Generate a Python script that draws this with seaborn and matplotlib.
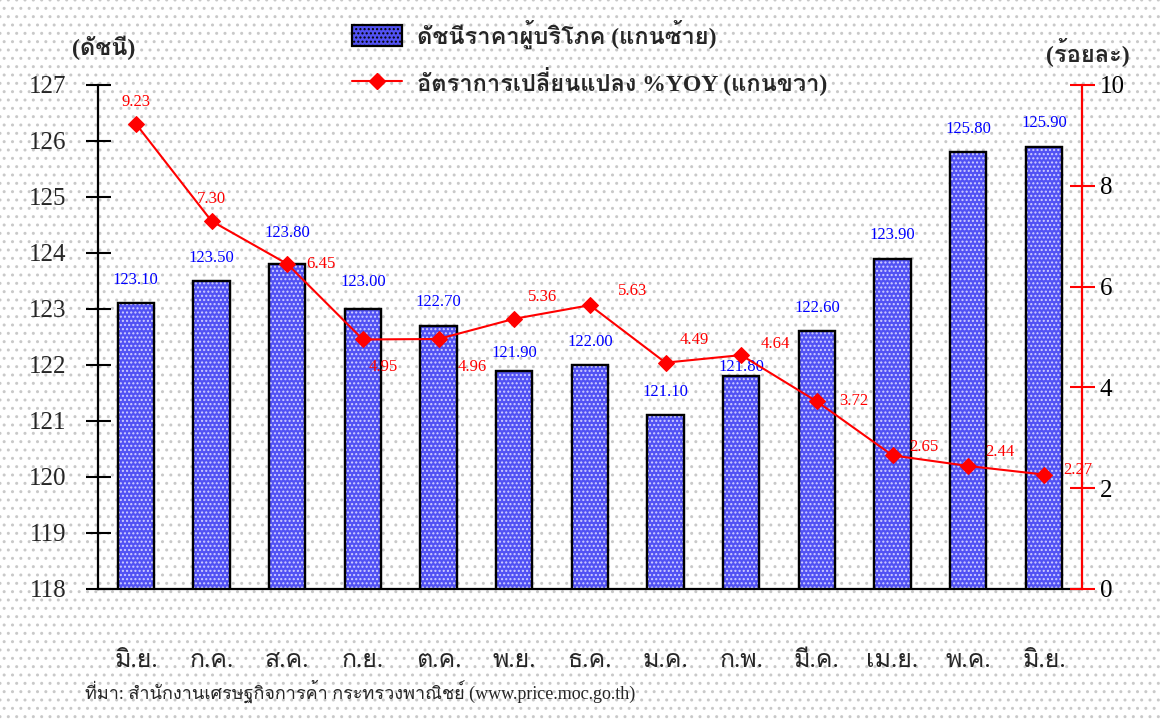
import numpy as np
import pandas as pd
import matplotlib
matplotlib.use("Agg")
import matplotlib.pyplot as plt
import seaborn as sns
from matplotlib import font_manager
from matplotlib.ft2font import FT2Font
from matplotlib.patches import Rectangle, Patch
from matplotlib.lines import Line2D

# ================= DATA =================
months = ["มิ.ย.", "ก.ค.", "ส.ค.", "ก.ย.", "ต.ค.", "พ.ย.", "ธ.ค.",
          "ม.ค.", "ก.พ.", "มี.ค.", "เม.ย.", "พ.ค.", "มิ.ย."]
cpi = [123.10, 123.50, 123.80, 123.00, 122.70, 121.90, 122.00,
       121.10, 121.80, 122.60, 123.90, 125.80, 125.90]
yoy = [9.23, 7.30, 6.45, 4.95, 4.96, 5.36, 5.63,
       4.49, 4.64, 3.72, 2.65, 2.44, 2.27]
left_ticks = list(range(118, 128))
right_ticks = [0, 2, 4, 6, 8, 10]
legend_bar = "ดัชนีราคาผู้บริโภค (แกนซ้าย)"
legend_line = "อัตราการเปลี่ยนแปลง %YOY (แกนขวา)"
source_text = "ที่มา: สำนักงานเศรษฐกิจการค้า กระทรวงพาณิชย์ (www.price.moc.go.th)"
# =========================================

# label offsets (points), style only
cpi_label_dy = [11, 11, 17, 14, 11, 7, 11, 11, 1, 11, 11, 11, 11]
yoy_offsets = [(0, 16), (0, 16), (14, 0), (4, -20), (14, -20), (10, 16), (20, 10),
               (10, 16), (14, 8), (16, 0), (12, 6), (12, 10), (14, 3)]

BAR_BLUE = "#5252f4"


def find_thai_font():
    names = []
    for f in font_manager.fontManager.ttflist:
        try:
            if FT2Font(f.fname).get_char_index(0x0E01):
                names.append(f.name)
        except Exception:
            pass
    for pref in ["TH Sarabun New", "Angsana New", "Norasi", "Loma", "Garuda",
                 "Noto Serif Thai", "Noto Sans Thai", "Waree", "Kinnari"]:
        if pref in names:
            return pref
    return names[0] if names else "DejaVu Sans"


sns.set_theme(style="white")
thai = find_thai_font()
FONTS = ["Liberation Serif", thai, "DejaVu Sans"]
plt.rcParams["font.family"] = FONTS
plt.rcParams["hatch.linewidth"] = 1.0

df = pd.DataFrame({"pos": np.arange(len(months)), "cpi": cpi, "yoy": yoy})

fig = plt.figure(figsize=(11.6, 7.2), dpi=100)
fig.patch.set_facecolor("white")
bg = Rectangle((0, 0), 1, 1, transform=fig.transFigure, facecolor="white",
               edgecolor="#c9c9c9", hatch="..", lw=0, zorder=-10)
fig.patches.append(bg)

ax = fig.add_axes([0.0845, 0.182, 0.848, 0.700])
ax.patch.set_alpha(0)

sns.barplot(data=df, x="pos", y="cpi", ax=ax, color=BAR_BLUE, saturation=1,
            width=0.48, edgecolor="black", linewidth=1.6, zorder=2)
for p in list(ax.patches):
    # white dotted texture, then a crisp black outline
    ax.add_patch(Rectangle(p.get_xy(), p.get_width(), p.get_height(), fill=False,
                           hatch="....", edgecolor="#d0d0ff", lw=0, zorder=2.5))
    ax.add_patch(Rectangle(p.get_xy(), p.get_width(), p.get_height(), fill=False,
                           edgecolor="black", lw=1.6, zorder=2.6))

ax.set_ylim(118, 127)
ax.set_xlim(-0.5, len(months) - 0.5)
ax.set_yticks(left_ticks)
ax.set_yticklabels([str(t) for t in left_ticks], fontsize=18)
ax.set_xticks(np.arange(len(months) + 1) - 0.5)
ax.set_xticklabels([])
ax.set_xticks(np.arange(len(months)), minor=True)
ax.set_xticklabels(months, minor=True, fontsize=18)
ax.tick_params(axis="x", which="major", direction="inout", length=16, width=1.2, color="black")
ax.tick_params(axis="x", which="minor", length=0, pad=44)
ax.tick_params(axis="y", direction="inout", length=18, width=1.5, color="black", pad=14, left=True)
ax.set_xlabel("")
ax.set_ylabel("")
for s in ["top", "right"]:
    ax.spines[s].set_visible(False)
ax.spines["left"].set_color("black")
ax.spines["left"].set_linewidth(1.6)
ax.spines["bottom"].set_color("black")
ax.spines["bottom"].set_linewidth(1.6)

for i, v in enumerate(cpi):
    ax.annotate(f"{v:.2f}", (i, v), xytext=(0, cpi_label_dy[i]), textcoords="offset points",
                ha="center", va="bottom", color="blue", fontsize=12, zorder=6)

ax2 = ax.twinx()
ax2.patch.set_alpha(0)
sns.lineplot(data=df, x="pos", y="yoy", ax=ax2, color="red", lw=1.5, marker="D",
             markersize=8, markeredgecolor="red", zorder=5)
ax2.set_ylim(0, 10)
ax2.set_yticks(right_ticks)
ax2.set_yticklabels([str(t) for t in right_ticks], fontsize=18)
ax2.set_xlim(-0.5, len(months) - 0.5)
ax2.set_ylabel("")
ax2.set_xlabel("")
ax2.tick_params(axis="y", direction="inout", length=18, width=1.5, colors="black", pad=4, right=True)
ax2.tick_params(axis="y", color="red")
for s in ["top", "left", "bottom"]:
    ax2.spines[s].set_visible(False)
ax2.spines["right"].set_color("red")
ax2.spines["right"].set_linewidth(1.6)

for i, v in enumerate(yoy):
    dx, dy = yoy_offsets[i]
    ax2.annotate(f"{v:.2f}", (i, v), xytext=(dx, dy), textcoords="offset points",
                 ha="center" if dx == 0 else "left", va="center", color="red", fontsize=12)

fig.text(0.089, 0.933, "(ดัชนี)", ha="center", va="center", fontsize=17, fontweight="bold")
fig.text(0.938, 0.928, "(ร้อยละ)", ha="center", va="center", fontsize=17, fontweight="bold")

handles = [Patch(facecolor=BAR_BLUE, edgecolor="black", lw=1.6, hatch="...."),
           Line2D([0], [0], color="red", lw=1.5, marker="D", markersize=8)]
fig.legend(handles, [legend_bar, legend_line], loc="upper left",
           bbox_to_anchor=(0.295, 0.986), frameon=False, handlelength=2.15,
           handleheight=1.0, handletextpad=0.6, borderaxespad=0,
           labelspacing=0.75, prop={"family": FONTS, "size": 17, "weight": "bold"})

fig.text(0.073, 0.04, source_text, ha="left", va="center", fontsize=13)

fig.savefig("out.png", dpi=100)
